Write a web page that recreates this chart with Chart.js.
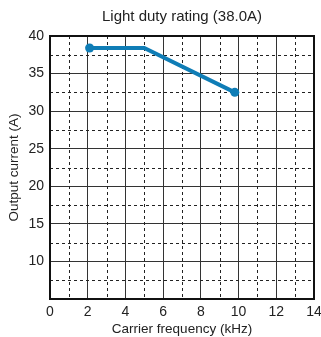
<!DOCTYPE html>
<html>
<head>
<meta charset="utf-8">
<script src="https://cdn.jsdelivr.net/npm/chart.js@4"></script>
<style>
  html, body { margin: 0; padding: 0; background: #fff; }
  #wrap { width: 321px; height: 337px; }
</style>
</head>
<body>
<div id="wrap"><canvas id="chart" width="321" height="337"></canvas></div>
<script>
// Datos
const frequencies = [2.1, 5, 9.8];       // kHz
const currents = [38.4, 38.4, 32.5];     // A
const xTicks = [0, 2, 4, 6, 8, 10, 12, 14];
const yTicks = [10, 15, 20, 25, 30, 35, 40];
const xMinor = [1, 3, 5, 7, 9, 11, 13];
const yMinor = [7.5, 12.5, 17.5, 22.5, 27.5, 32.5, 37.5];

const points = frequencies.map((f, i) => ({ x: f, y: currents[i] }));

// Líneas punteadas de la cuadrícula secundaria + marco
const minorGrid = {
    id: 'minorGrid',
    beforeDatasetsDraw(chart) {
        const { ctx, chartArea: a, scales: { x, y } } = chart;
        ctx.save();
        ctx.strokeStyle = '#222';
        ctx.lineWidth = 1;
        ctx.setLineDash([3, 3]);
        xMinor.forEach(v => {
            const px = Math.round(x.getPixelForValue(v)) + 0.5;
            ctx.beginPath();
            ctx.moveTo(px, a.top);
            ctx.lineTo(px, a.bottom);
            ctx.stroke();
        });
        yMinor.forEach(v => {
            const py = Math.round(y.getPixelForValue(v)) + 0.5;
            ctx.beginPath();
            ctx.moveTo(a.left, py);
            ctx.lineTo(a.right, py);
            ctx.stroke();
        });
        ctx.restore();
    },
    afterDatasetsDraw(chart) {
        const { ctx, chartArea: a } = chart;
        ctx.save();
        ctx.strokeStyle = '#111';
        ctx.lineWidth = 2;
        ctx.strokeRect(a.left, a.top, a.right - a.left, a.bottom - a.top);
        ctx.restore();
    }
};

Chart.defaults.font.family = '"Liberation Sans", Arial, sans-serif';
Chart.defaults.color = '#222';

new Chart(document.getElementById('chart').getContext('2d'), {
    type: 'scatter',
    data: {
        datasets: [{
            data: points,
            showLine: true,
            borderColor: '#0f7db6',
            backgroundColor: '#0f7db6',
            borderWidth: 4,
            pointBorderWidth: 0,
            pointRadius: ctx => (ctx.dataIndex === 0 || ctx.dataIndex === points.length - 1) ? 4.5 : 0,
            pointHoverRadius: 0
        }]
    },
    plugins: [minorGrid],
    options: {
        responsive: false,
        animation: false,
        layout: { padding: { left: 6, right: 7, top: 0, bottom: 0 } },
        plugins: {
            legend: { display: false },
            tooltip: { enabled: false },
            title: {
                display: true,
                fullSize: false,
                text: 'Light duty rating (38.0A)',
                font: { size: 15, weight: 'normal' },
                color: '#222',
                padding: { top: 8, bottom: 10 }
            }
        },
        scales: {
            x: {
                type: 'linear',
                min: 0,
                max: 14,
                afterBuildTicks: s => { s.ticks = xTicks.map(v => ({ value: v })); },
                afterFit: s => { s.height = 38; s.paddingRight = 0; s.paddingLeft = 0; },
                ticks: { font: { size: 14 }, padding: 5, maxRotation: 0 },
                grid: { color: '#333', lineWidth: 1, drawTicks: false },
                border: { display: false },
                title: {
                    display: true,
                    text: 'Carrier frequency (kHz)',
                    font: { size: 13.5 },
                    padding: { top: 2, bottom: 0 }
                }
            },
            y: {
                min: 5,
                max: 40,
                afterBuildTicks: s => { s.ticks = yTicks.map(v => ({ value: v })); },
                afterFit: s => { s.width = 44; },
                ticks: { font: { size: 14 }, padding: 6 },
                grid: { color: '#333', lineWidth: 1, drawTicks: false },
                border: { display: false },
                title: {
                    display: true,
                    text: 'Output current (A)',
                    font: { size: 13.5 },
                    padding: { top: 0, bottom: 2 }
                }
            }
        }
    }
});
</script>
</body>
</html>
